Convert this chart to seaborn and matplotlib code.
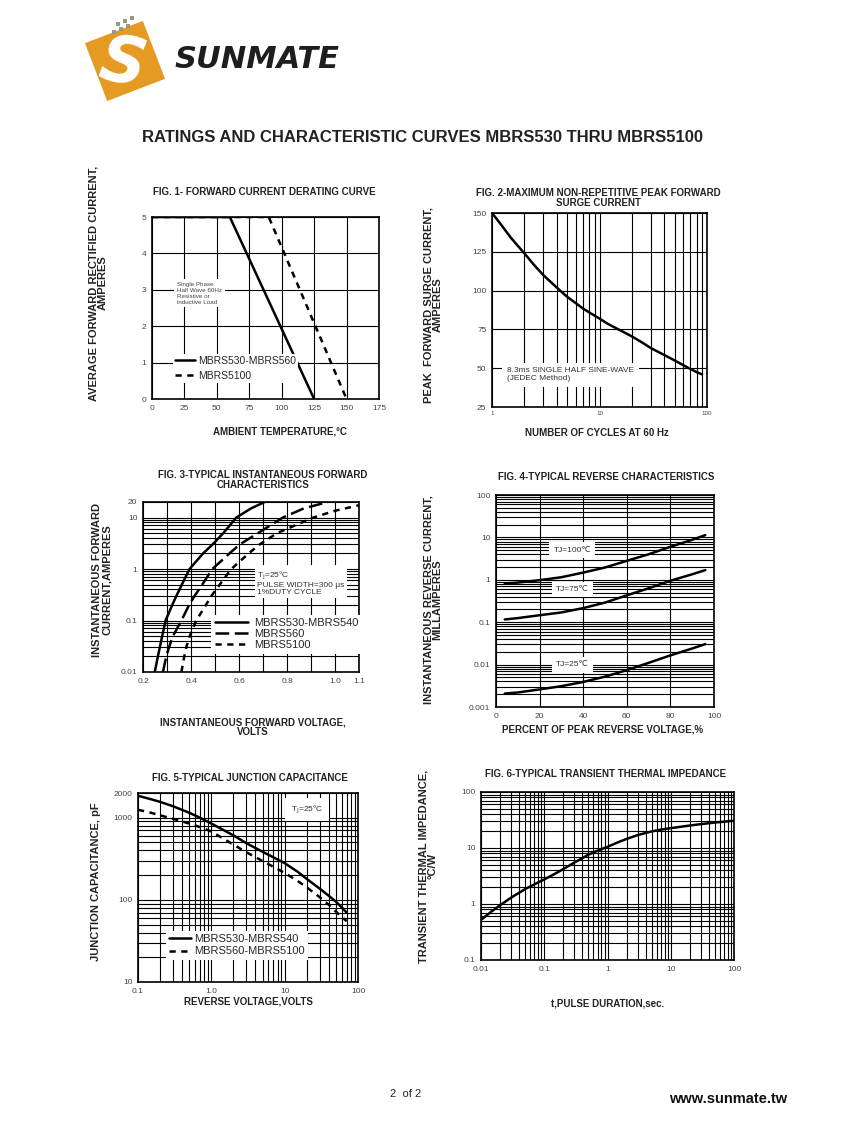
import numpy as np
import pandas as pd
import matplotlib.pyplot as plt
import seaborn as sns
from matplotlib.patches import Rectangle
from matplotlib.ticker import NullFormatter, LogLocator
import matplotlib.transforms as mtransforms

W, H = 847, 1125

# Fig 1 - forward current derating
fig1_temp_lo = [0, 60, 125]
fig1_amps_lo = [5, 5, 0]
fig1_temp_hi = [0, 90, 150]
fig1_amps_hi = [5, 5, 0]

# Fig 2 - peak forward surge current
fig2_cycles = [1, 1.2, 1.5, 2, 2.5, 3, 4, 5, 6, 7, 8, 10, 12, 15, 20, 25, 30, 40, 50, 60, 70, 80, 90]
fig2_amps = [150, 143, 134, 124, 116, 110, 102, 96, 92, 88.5, 86, 82, 78.5, 75, 70.5,
             66.5, 63, 58.5, 55, 52, 49.5, 47.5, 46]

# Fig 3 - instantaneous forward characteristics
fig3_amps = [0.01, 0.02, 0.03, 0.05, 0.1, 0.2, 0.3, 0.5, 1, 2, 3, 5, 10, 15, 20]
fig3_volt_540 = [0.249, 0.262, 0.27, 0.28, 0.294, 0.322, 0.339, 0.362, 0.394, 0.45,
                 0.49, 0.535, 0.589, 0.65, 0.707]
fig3_volt_560 = [0.283, 0.297, 0.308, 0.325, 0.36, 0.392, 0.415, 0.447, 0.489, 0.56,
                 0.603, 0.68, 0.783, 0.87, 0.97]
fig3_amps_5100 = [0.01, 0.02, 0.03, 0.05, 0.1, 0.2, 0.3, 0.5, 1, 2, 3, 5, 10, 13.5, 17.3]
fig3_volt_5100 = [0.36, 0.372, 0.38, 0.395, 0.422, 0.462, 0.485, 0.52, 0.568, 0.64,
                  0.686, 0.76, 0.91, 1.0, 1.1]

# Fig 4 - reverse characteristics
fig4_pct = [4, 10, 20, 30, 40, 50, 60, 70, 80, 90, 96]
fig4_tj100 = [0.82, 0.86, 0.98, 1.15, 1.48, 1.95, 2.8, 4.0, 6.0, 8.8, 11.3]
fig4_tj75 = [0.116, 0.125, 0.146, 0.17, 0.215, 0.29, 0.43, 0.63, 0.95, 1.35, 1.69]
fig4_tj25 = [0.00207, 0.0022, 0.0026, 0.0031, 0.0039, 0.0052, 0.0074, 0.011, 0.0165, 0.024, 0.0304]

# Fig 5 - junction capacitance
fig5_volt = [0.1, 0.15, 0.2, 0.3, 0.5, 0.7, 1, 1.5, 2, 3, 5, 7, 10, 15, 20, 30, 40, 50, 60, 70]
fig5_cap_540 = [1850, 1680, 1560, 1380, 1150, 1000, 850, 700, 610, 490, 385, 330, 280,
                220, 180, 137, 112, 95, 81, 70]
fig5_cap_5100 = [1250, 1150, 1070, 970, 850, 770, 680, 548, 471, 380, 297, 253, 213,
                 170, 142, 108, 87, 72, 62, 55]

# Fig 6 - transient thermal impedance
fig6_time = [0.01, 0.015, 0.02, 0.03, 0.05, 0.07, 0.1, 0.15, 0.2, 0.3, 0.5, 0.7, 1,
             1.5, 2, 3, 5, 7, 10, 20, 30, 50, 100]
fig6_imp = [0.52, 0.75, 0.95, 1.3, 1.85, 2.25, 2.75, 3.5, 4.2, 5.5, 7.6, 9.0, 10.5,
            12.8, 14.5, 17, 19.8, 21.3, 22.6, 25.2, 26.7, 28.5, 30.7]

sns.set_theme(style="white")
plt.rcParams["font.family"] = ["Liberation Sans", "DejaVu Sans"]

fig = plt.figure(figsize=(W / 100, H / 100), dpi=100)
fig.patch.set_facecolor("white")

# overlay in pixel coordinates for page text and logo
ov = fig.add_axes([0, 0, 1, 1])
ov.set_xlim(0, W)
ov.set_ylim(H, 0)
ov.axis("off")


def px_axes(l, t, r, b):
    return fig.add_axes([l / W, 1 - b / H, (r - l) / W, (b - t) / H])


def style(ax, fs=6):
    ax.set_axisbelow(True)
    ax.grid(True, which="both", color="black", lw=0.8)
    for s in ax.spines.values():
        s.set_color("black")
        s.set_linewidth(1.2)
    ax.tick_params(which="both", length=0, labelsize=fs, labelcolor="#444", pad=4)
    ax.set_xlabel("")
    ax.set_ylabel("")


def log_minor(axis):
    axis.set_minor_locator(LogLocator(base=10, subs=np.arange(2, 10), numticks=30))
    axis.set_minor_formatter(NullFormatter())


def label(x, y, s, size=7, **kw):
    ov.text(x, y, s, fontsize=size, fontweight="bold", ha="center", va="center",
            color="#222", linespacing=0.92, multialignment="center", **kw)


LW = 1.8
SHORT = (0, (2.5, 2.2))
LONG = (0, (5.5, 2.2))
boxw = dict(fc="white", ec="none", pad=2)

# ---------- logo ----------
logo = Rectangle((94, 30), 62, 62, fc="#E59A24", ec="none")
logo.set_transform(mtransforms.Affine2D().rotate_deg_around(125, 61, -21) + ov.transData)
ov.add_patch(logo)
ov.text(122, 64, "S", color="white", fontsize=46, fontweight="bold", style="italic",
        ha="center", va="center", rotation=-10, family="DejaVu Sans")
for dx, dy in [(0, 0), (7, -3), (14, -6), (4, -8), (11, -11), (18, -14)]:
    ov.add_patch(Rectangle((112 + dx, 30 + dy), 4, 4, fc="#9A9A7A", ec="none"))
ov.text(257, 60, "SUNMATE", color="#1E1E1E", fontsize=22, fontweight="heavy",
        style="italic", ha="center", va="center", family="DejaVu Sans")

label(422, 138, "RATINGS AND CHARACTERISTIC CURVES MBRS530 THRU MBRS5100", size=12)

# ---------- Fig 1 ----------
ax1 = px_axes(152, 217, 379, 399)
sns.lineplot(x=fig1_temp_lo, y=fig1_amps_lo, color="black", lw=LW, ax=ax1,
             label="MBRS530-MBRS560")
sns.lineplot(x=fig1_temp_hi, y=fig1_amps_hi, color="black", lw=LW, linestyle=SHORT,
             ax=ax1, label="MBRS5100")
ax1.set_xlim(0, 175)
ax1.set_ylim(0, 5)
ax1.set_xticks(np.arange(0, 176, 25))
ax1.set_yticks(np.arange(0, 6, 1))
style(ax1)
ax1.legend(loc="lower left", bbox_to_anchor=(0.07, 0.06), fontsize=7.5, frameon=True,
           facecolor="white", edgecolor="none", framealpha=1, fancybox=False,
           handlelength=1.9, handletextpad=0.3, labelspacing=0.45, borderpad=0.2)
ax1.text(0.11, 0.58, "Single Phase\nHalf Wave 60Hz\nResistive or\ninductive Load",
         transform=ax1.transAxes, fontsize=4.5, color="#444", va="center", bbox=boxw)
label(264, 192, "FIG. 1- FORWARD CURRENT DERATING CURVE")
label(280, 432, "AMBIENT TEMPERATURE,°C")
label(98, 283, "AVERAGE FORWARD RECTIFIED CURRENT,\nAMPERES", size=8, rotation=90)

# ---------- Fig 2 ----------
ax2 = px_axes(492, 213, 707, 407)
sns.lineplot(x=fig2_cycles, y=fig2_amps, color="black", lw=LW, ax=ax2)
ax2.set_xscale("log")
ax2.set_xlim(1, 100)
ax2.set_ylim(25, 150)
ax2.set_xticks([1, 10, 100], ["1", "10", "100"])
log_minor(ax2.xaxis)
ax2.set_yticks([25, 50, 75, 100, 125, 150])
style(ax2)
ax2.tick_params(axis="x", labelsize=4.5, pad=3)
ax2.text(0.07, 0.165, "8.3ms SINGLE HALF SINE-WAVE\n(JEDEC Method)", transform=ax2.transAxes,
         fontsize=6, color="#333", va="center", bbox=dict(fc="white", ec="none", pad=3.5))
label(598, 198, "FIG. 2-MAXIMUM NON-REPETITIVE PEAK FORWARD\nSURGE CURRENT")
label(597, 433, "NUMBER OF CYCLES AT 60 Hz")
label(433, 305, "PEAK  FORWARD SURGE CURRENT,\nAMPERES", size=8, rotation=90)

# ---------- Fig 3 ----------
ax3 = px_axes(143, 502, 359, 672)
sns.lineplot(x=fig3_volt_540, y=fig3_amps, color="black", lw=LW, ax=ax3,
             label="MBRS530-MBRS540", sort=False)
sns.lineplot(x=fig3_volt_560, y=fig3_amps, color="black", lw=LW, linestyle=LONG,
             ax=ax3, label="MBRS560", sort=False)
sns.lineplot(x=fig3_volt_5100, y=fig3_amps_5100, color="black", lw=LW, linestyle=SHORT,
             ax=ax3, label="MBRS5100", sort=False)
ax3.set_yscale("log")
ax3.set_xlim(0.2, 1.1)
ax3.set_ylim(0.01, 20)
ax3.set_xticks([0.2, 0.4, 0.6, 0.8, 1.0, 1.1], ["0.2", "0.4", "0.6", "0.8", "1.0", "1.1"])
ax3.set_xticks([0.3, 0.5, 0.7, 0.9], minor=True)
ax3.set_yticks([0.01, 0.1, 1, 10, 20], ["0.01", "0.1", "1", "10", "20"])
log_minor(ax3.yaxis)
style(ax3)
ax3.legend(loc="upper left", bbox_to_anchor=(0.29, 0.37), fontsize=8, frameon=True,
           facecolor="white", edgecolor="none", framealpha=1, fancybox=False,
           handlelength=3.0, handletextpad=0.6, labelspacing=0.1, borderpad=0.3)
ax3.text(0.53, 0.525, "T$_\\mathrm{J}$=25°C\nPULSE WIDTH=300 μs\n1%DUTY CYCLE",
         transform=ax3.transAxes, fontsize=6, color="#333", va="center",
         linespacing=0.95, bbox=boxw)
label(263, 480, "FIG. 3-TYPICAL INSTANTANEOUS FORWARD\nCHARACTERISTICS")
label(253, 727, "INSTANTANEOUS FORWARD VOLTAGE,\nVOLTS")
label(102, 580, "INSTANTANEOUS FORWARD\nCURRENT,AMPERES", size=8, rotation=90)

# ---------- Fig 4 ----------
ax4 = px_axes(496, 495, 714, 707)
for vals in [fig4_tj100, fig4_tj75, fig4_tj25]:
    sns.lineplot(x=fig4_pct, y=vals, color="black", lw=LW, ax=ax4)
ax4.set_yscale("log")
ax4.set_xlim(0, 100)
ax4.set_ylim(0.001, 100)
ax4.set_xticks(np.arange(0, 101, 20))
ax4.set_yticks([0.001, 0.01, 0.1, 1, 10, 100], ["0.001", "0.01", "0.1", "1", "10", "100"])
log_minor(ax4.yaxis)
style(ax4)
for lab, yv in [("TJ=100℃", 5.0), ("TJ=75℃", 0.58), ("TJ=25℃", 0.0098)]:
    ax4.text(35, yv, lab, fontsize=6, color="#333", ha="center", va="center",
             bbox=dict(fc="white", ec="none", pad=3))
label(606, 477, "FIG. 4-TYPICAL REVERSE CHARACTERISTICS")
label(603, 730, "PERCENT OF PEAK REVERSE VOLTAGE,%")
label(433, 600, "INSTANTANEOUS REVERSE CURRENT,\nMILLAMPERES", size=8, rotation=90)

# ---------- Fig 5 ----------
ax5 = px_axes(138, 793, 358, 982)
sns.lineplot(x=fig5_volt, y=fig5_cap_540, color="black", lw=LW, ax=ax5,
             label="MBRS530-MBRS540")
sns.lineplot(x=fig5_volt, y=fig5_cap_5100, color="black", lw=LW, linestyle=SHORT,
             ax=ax5, label="MBRS560-MBRS5100")
ax5.set_xscale("log")
ax5.set_yscale("log")
ax5.set_xlim(0.1, 100)
ax5.set_ylim(10, 2000)
ax5.set_xticks([0.1, 1, 10, 100], ["0.1", "1.0", "10", "100"])
ax5.set_yticks([10, 100, 1000, 2000], ["10", "100", "1000", "2000"])
log_minor(ax5.xaxis)
log_minor(ax5.yaxis)
style(ax5)
ax5.legend(loc="upper left", bbox_to_anchor=(0.1, 0.3), fontsize=8, frameon=True,
           facecolor="white", edgecolor="none", framealpha=1, fancybox=False,
           handlelength=2.0, handletextpad=0.3, labelspacing=0.2, borderpad=0.3)
ax5.text(20, 1250, "T$_\\mathrm{J}$=25°C", fontsize=6, color="#333", ha="center",
         va="center", bbox=dict(fc="white", ec="none", pad=4))
label(250, 778, "FIG. 5-TYPICAL JUNCTION CAPACITANCE")
label(248, 1002, "REVERSE VOLTAGE,VOLTS")
label(96, 882, "JUNCTION CAPACITANCE, pF", size=8, rotation=90)

# ---------- Fig 6 ----------
ax6 = px_axes(481, 792, 734, 960)
sns.lineplot(x=fig6_time, y=fig6_imp, color="black", lw=LW, ax=ax6)
ax6.set_xscale("log")
ax6.set_yscale("log")
ax6.set_xlim(0.01, 100)
ax6.set_ylim(0.1, 100)
ax6.set_xticks([0.01, 0.1, 1, 10, 100], ["0.01", "0.1", "1", "10", "100"])
ax6.set_yticks([0.1, 1, 10, 100], ["0.1", "1", "10", "100"])
log_minor(ax6.xaxis)
log_minor(ax6.yaxis)
style(ax6)
label(606, 774, "FIG. 6-TYPICAL TRANSIENT THERMAL IMPEDANCE")
label(608, 1004, "t,PULSE DURATION,sec.")
label(428, 866, "TRANSIENT THERMAL IMPEDANCE,\n°C/W", size=8, rotation=90)

# ---------- footer ----------
ov.text(390, 1094, "2  of 2", fontsize=8, ha="left", va="center", color="#222")
ov.text(787, 1099, "www.sunmate.tw", fontsize=10.5, fontweight="bold", ha="right",
        va="center", color="#111")

fig.savefig("out.png", dpi=100)
